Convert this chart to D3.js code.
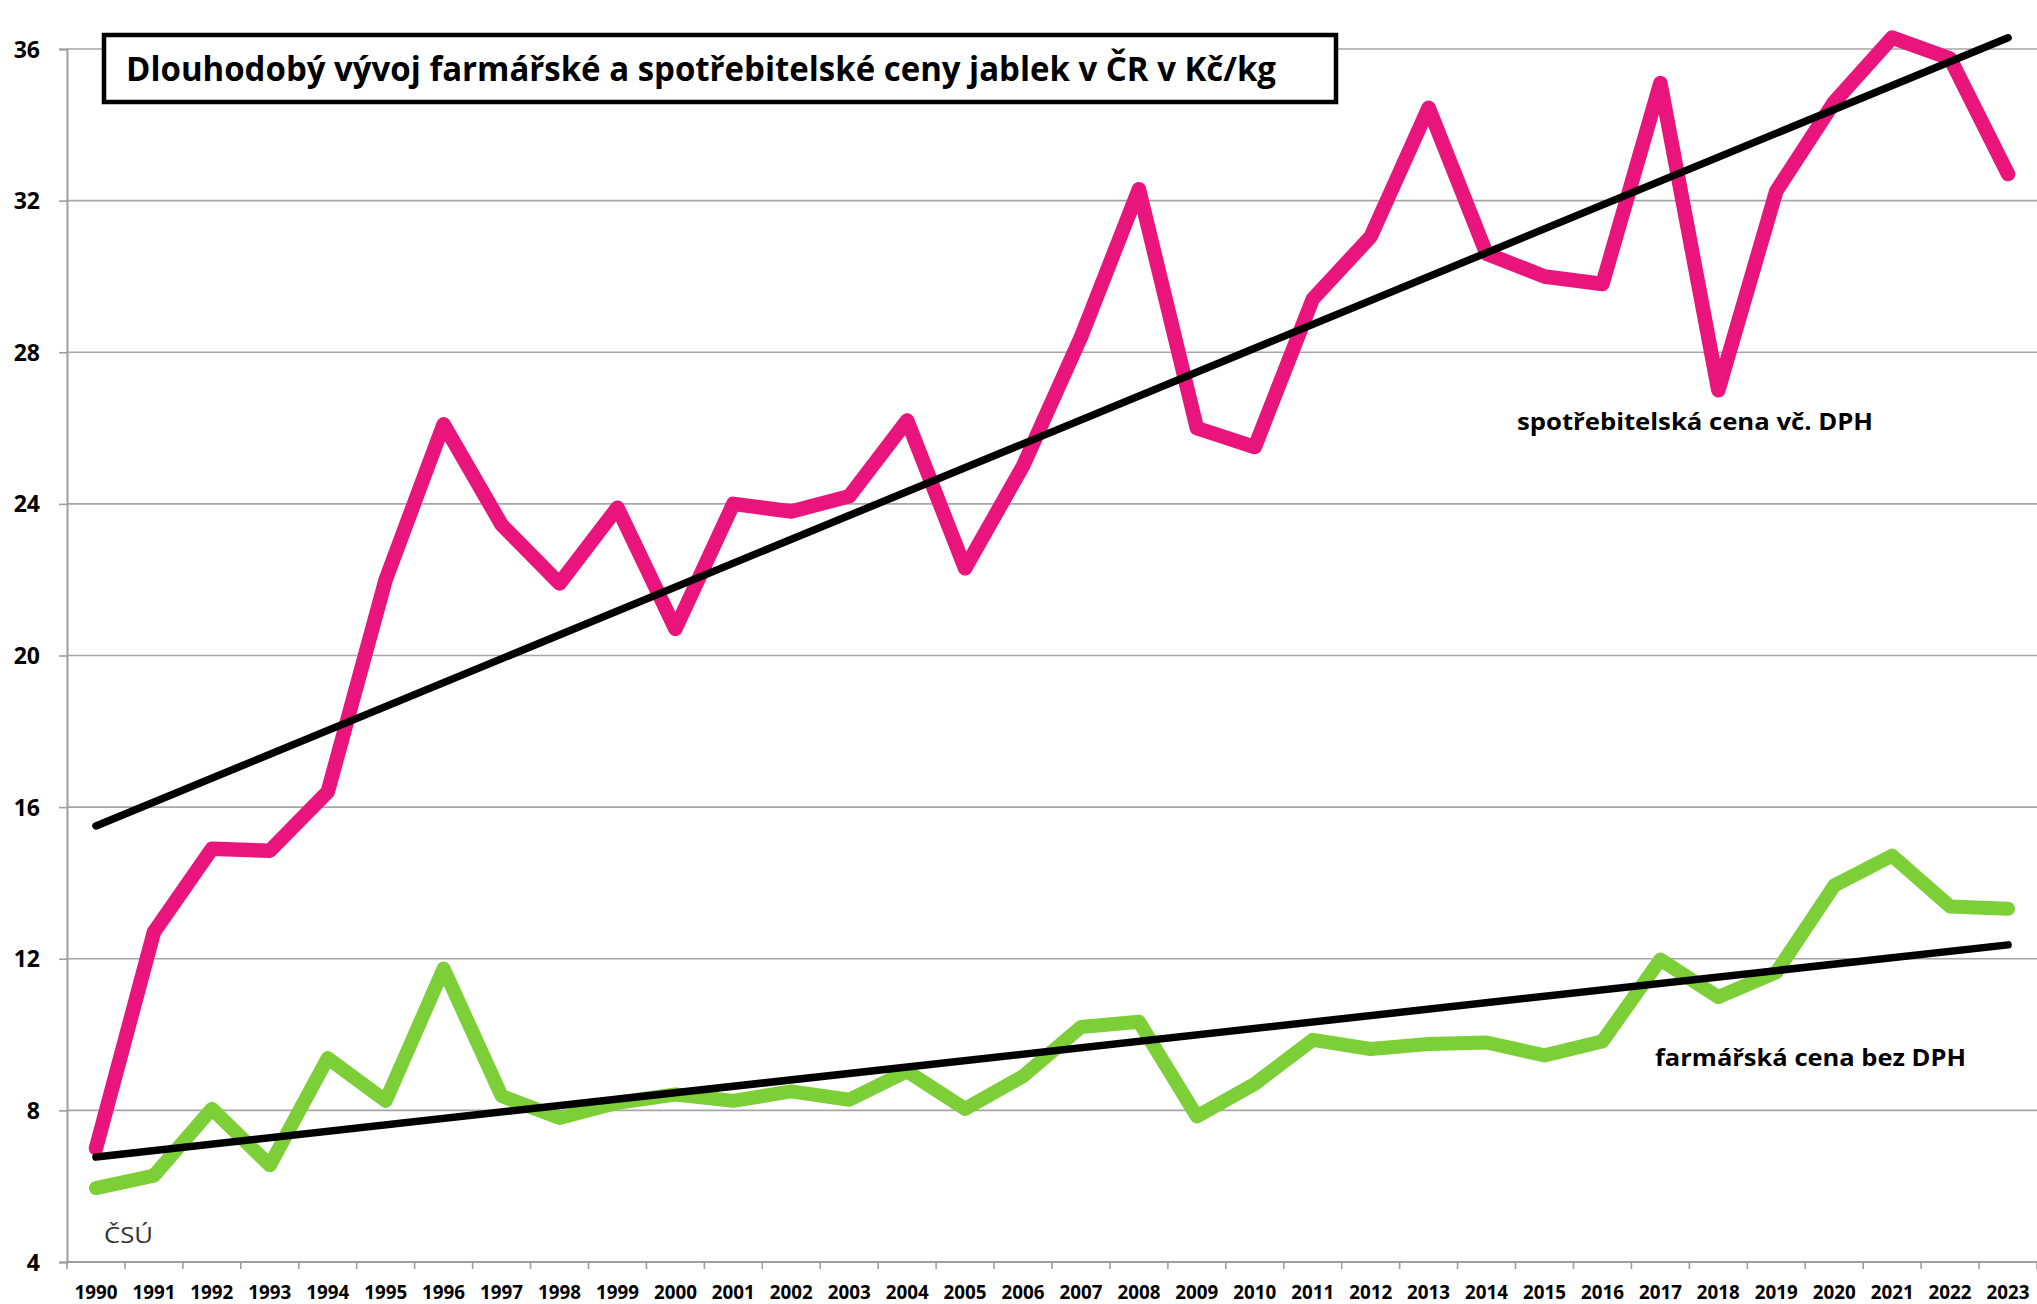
<!DOCTYPE html>
<html>
<head>
<meta charset="utf-8">
<script src="https://cdn.jsdelivr.net/npm/d3@7"></script>
<style>
  html, body { margin: 0; padding: 0; background: #fff; }
  svg { display: block; }
  text { font-family: "Open Sans", "Noto Sans", "Liberation Sans", sans-serif; }
</style>
</head>
<body>
<svg id="chart" width="2037" height="1304"></svg>
<script>
// Roky sledovaného období
const years = ["1990","1991","1992","1993","1994","1995","1996","1997","1998","1999",
               "2000","2001","2002","2003","2004","2005","2006","2007","2008","2009",
               "2010","2011","2012","2013","2014","2015","2016","2017","2018","2019",
               "2020","2021","2022","2023"];

// Spotřebitelská cena jablek vč. DPH (Kč/kg)
const consumerPrice = [7.0, 12.7, 14.9, 14.85, 16.4, 22.0, 26.1, 23.45, 21.9, 23.9,
                       20.7, 24.0, 23.8, 24.2, 26.2, 22.3, 25.0, 28.4, 32.3, 26.0,
                       25.5, 29.4, 31.05, 34.45, 30.6, 30.0, 29.8, 35.1, 27.0, 32.25,
                       34.6, 36.3, 35.75, 32.7];

// Farmářská cena jablek bez DPH (Kč/kg)
const farmPrice = [5.95, 6.28, 8.04, 6.55, 9.38, 8.25, 11.74, 8.38, 7.8, 8.2,
                   8.42, 8.25, 8.5, 8.28, 9.03, 8.04, 8.9, 10.2, 10.34, 7.84,
                   8.7, 9.86, 9.62, 9.75, 9.79, 9.45, 9.82, 11.98, 10.99, 11.64,
                   13.93, 14.72, 13.38, 13.32];

const yTicks = [4, 8, 12, 16, 20, 24, 28, 32, 36];

const titleText = "Dlouhodobý vývoj farmářské a spotřebitelské ceny jablek v ČR v Kč/kg";
const consumerLabel = "spotřebitelská cena vč. DPH";
const farmLabel = "farmářská cena bez DPH";
const sourceLabel = "ČSÚ";

const svg = d3.select("#chart");

const plot = { left: 67, right: 2037, top: 49, bottom: 1262 };

const x = d3.scaleBand().domain(years).range([plot.left, plot.right]).paddingInner(0).paddingOuter(0);
const y = d3.scaleLinear().domain([4, 36]).range([plot.bottom, plot.top]);
const cx = yr => x(yr) + x.bandwidth() / 2;

// Vodorovné mřížky
svg.append("g")
  .selectAll("line")
  .data(yTicks.filter(t => t !== 4))
  .join("line")
  .attr("x1", plot.left).attr("x2", plot.right)
  .attr("y1", d => y(d)).attr("y2", d => y(d))
  .attr("stroke", "#a6a6a6").attr("stroke-width", 1.6);

// Osa Y
const yAxis = svg.append("g")
  .attr("transform", `translate(${plot.left},0)`)
  .call(d3.axisLeft(y).tickValues(yTicks).tickSize(8).tickPadding(10).tickFormat(d3.format("d")));
yAxis.select(".domain").attr("stroke", "#9e9e9e").attr("stroke-width", 2);
yAxis.selectAll(".tick line").attr("stroke", "#9e9e9e").attr("stroke-width", 1.6);
yAxis.selectAll(".tick text")
  .attr("font-size", 23).attr("font-weight", 700).attr("fill", "#000")
  .attr("dy", "0.35em")
  .attr("x", -27);

// Osa X - popisky ve středu kategorií
const xAxis = svg.append("g")
  .attr("transform", `translate(0,${plot.bottom})`)
  .call(d3.axisBottom(x).tickSize(0).tickPadding(0));
xAxis.select(".domain").remove();
xAxis.selectAll(".tick text")
  .attr("font-size", 20).attr("font-weight", 700).attr("fill", "#000")
  .attr("dy", 0).attr("y", 37)
  .attr("textLength", 43).attr("lengthAdjust", "spacingAndGlyphs");

// Čára osy X a značky na hranicích kategorií
const boundaries = years.map(yr => x(yr)).concat([plot.right]);
svg.append("line")
  .attr("x1", plot.left).attr("x2", plot.right)
  .attr("y1", plot.bottom).attr("y2", plot.bottom)
  .attr("stroke", "#9e9e9e").attr("stroke-width", 2.2);
svg.append("g")
  .selectAll("line")
  .data(boundaries)
  .join("line")
  .attr("x1", d => d).attr("x2", d => d)
  .attr("y1", plot.bottom).attr("y2", plot.bottom + 7)
  .attr("stroke", "#9e9e9e").attr("stroke-width", 1.6);

// Datové řady
const line = d3.line().x((d, i) => cx(years[i])).y(d => y(d));

svg.append("path")
  .datum(farmPrice)
  .attr("d", line)
  .attr("fill", "none")
  .attr("stroke", "#7ccf37")
  .attr("stroke-width", 14)
  .attr("stroke-linejoin", "round")
  .attr("stroke-linecap", "round");

svg.append("path")
  .datum(consumerPrice)
  .attr("d", line)
  .attr("fill", "none")
  .attr("stroke", "#e9157d")
  .attr("stroke-width", 14.5)
  .attr("stroke-linejoin", "round")
  .attr("stroke-linecap", "round");

// Lineární trendy (metoda nejmenších čtverců)
function linearFit(values) {
  const n = values.length;
  const xs = d3.range(n);
  const mx = d3.mean(xs), my = d3.mean(values);
  let sxy = 0, sxx = 0;
  xs.forEach((xi, i) => { sxy += (xi - mx) * (values[i] - my); sxx += (xi - mx) * (xi - mx); });
  const slope = sxy / sxx;
  const intercept = my - slope * mx;
  return [intercept, intercept + slope * (n - 1)];
}

[consumerPrice, farmPrice].forEach(series => {
  const [v0, v1] = linearFit(series);
  svg.append("line")
    .attr("x1", cx(years[0])).attr("y1", y(v0))
    .attr("x2", cx(years[years.length - 1])).attr("y2", y(v1))
    .attr("stroke", "#000")
    .attr("stroke-width", 7.5)
    .attr("stroke-linecap", "round");
});

// Titulek v rámečku
svg.append("rect")
  .attr("x", 104).attr("y", 35)
  .attr("width", 1232).attr("height", 67)
  .attr("fill", "#fff")
  .attr("stroke", "#000")
  .attr("stroke-width", 4.5);
svg.append("text")
  .attr("x", 126).attr("y", 81)
  .attr("font-size", 34).attr("font-weight", 700).attr("fill", "#000")
  .attr("textLength", 1150).attr("lengthAdjust", "spacingAndGlyphs")
  .text(titleText);

// Popisky řad
svg.append("text")
  .attr("x", 1517).attr("y", 430)
  .attr("font-size", 24).attr("font-weight", 700).attr("fill", "#000")
  .attr("textLength", 356).attr("lengthAdjust", "spacingAndGlyphs")
  .text(consumerLabel);

svg.append("text")
  .attr("x", 1655).attr("y", 1066)
  .attr("font-size", 24).attr("font-weight", 700).attr("fill", "#000")
  .attr("textLength", 311).attr("lengthAdjust", "spacingAndGlyphs")
  .text(farmLabel);

// Zdroj
svg.append("text")
  .attr("x", 104).attr("y", 1243)
  .attr("font-size", 22).attr("fill", "#333")
  .attr("textLength", 49).attr("lengthAdjust", "spacingAndGlyphs")
  .text(sourceLabel);
</script>
</body>
</html>
